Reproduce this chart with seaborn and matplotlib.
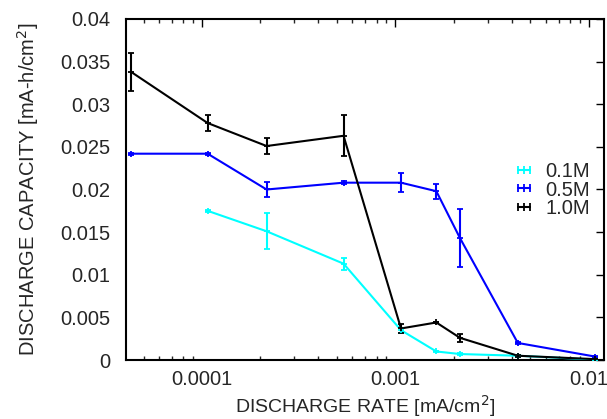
import numpy as np
import pandas as pd
import matplotlib
matplotlib.use("Agg")
import matplotlib.pyplot as plt
from matplotlib.lines import Line2D
import seaborn as sns

# Discharge rate [mA/cm^2] for each measurement
rate_01 = [1.07e-4, 2.16e-4, 5.4e-4, 1.07e-3, 1.63e-3, 2.16e-3, 4.3e-3, 1.08e-2]
rate_05 = [4.3e-5, 1.07e-4, 2.16e-4, 5.4e-4, 1.07e-3, 1.63e-3, 2.16e-3, 4.3e-3, 1.08e-2]
rate_10 = [4.3e-5, 1.07e-4, 2.16e-4, 5.4e-4, 1.07e-3, 1.63e-3, 2.16e-3, 4.3e-3, 1.08e-2]

# Discharge capacity [mA-h/cm^2] and its spread
cap_01 = [0.0175, 0.0151, 0.0113, 0.0035, 0.0010, 0.0007, 0.0005, 0.00005]
err_01 = [0.0001, 0.0021, 0.0007, 0.0003, 0.0001, 0.0001, 0.0001, 0.0001]
cap_05 = [0.0242, 0.0242, 0.0200, 0.0208, 0.0208, 0.0198, 0.0143, 0.0020, 0.0004]
err_05 = [0.0001, 0.0001, 0.0009, 0.0002, 0.0011, 0.0009, 0.0034, 0.0001, 0.0001]
cap_10 = [0.0338, 0.0278, 0.0251, 0.0263, 0.0037, 0.0044, 0.0026, 0.0005, 0.0001]
err_10 = [0.0022, 0.0009, 0.0009, 0.0024, 0.0005, 0.0001, 0.0005, 0.0001, 0.0001]

labels = ["0.1M", "0.5M", "1.0M"]
colors = ["#00ffff", "#0000ff", "#000000"]

frames = []
for lab, x, y, e in [("0.1M", rate_01, cap_01, err_01),
                     ("0.5M", rate_05, cap_05, err_05),
                     ("1.0M", rate_10, cap_10, err_10)]:
    frames.append(pd.DataFrame({"rate": x, "cap": y, "err": e, "conc": lab}))
df = pd.concat(frames, ignore_index=True)

sns.set_style("white")
plt.rcParams["font.family"] = ["Liberation Sans", "DejaVu Sans"]
plt.rcParams["font.size"] = 14.5

fig = plt.figure(figsize=(6.07, 4.19), dpi=100)
ax = fig.add_axes([126 / 607, 1 - 360 / 419, 478 / 607, 341 / 419])

sns.lineplot(data=df, x="rate", y="cap", hue="conc", hue_order=labels,
             palette=colors, errorbar=None, linewidth=1.5, ax=ax,
             legend=False, zorder=3)

for lab, col in zip(labels, colors):
    sub = df[df["conc"] == lab]
    ax.errorbar(sub["rate"], sub["cap"], yerr=sub["err"], fmt="+",
                color=col, ecolor=col, elinewidth=1.5, capsize=2.3,
                capthick=1.5, markersize=5, markeredgewidth=1.3,
                linestyle="none", zorder=4)

ax.set_xscale("log")
ax.set_xlim(4.05e-5, 1.2e-2)
ax.set_ylim(0, 0.04)
ax.set_yticks(np.arange(0, 0.0401, 0.005))
ax.set_yticklabels(["0", "0.005", "0.01", "0.015", "0.02", "0.025",
                    "0.03", "0.035", "0.04"])
ax.set_xticks([1e-4, 1e-3, 1e-2])
ax.set_xticklabels(["0.0001", "0.001", "0.01"])

ax.tick_params(axis="both", which="major", direction="in", length=6,
               width=1, top=True, right=True, labelsize=14.5, color="black")
ax.tick_params(axis="x", which="major", pad=7)
ax.tick_params(axis="y", which="major", pad=11)
ax.tick_params(axis="x", which="minor", direction="in", length=3,
               width=1, top=True, bottom=True)
ax.xaxis.set_minor_formatter(matplotlib.ticker.NullFormatter())

for s in ax.spines.values():
    s.set_color("black")
    s.set_linewidth(1.5)

ax.set_xlabel("DISCHARGE RATE [mA/cm$^2$]", fontsize=14, labelpad=3)
ax.set_ylabel("DISCHARGE CAPACITY [mA-h/cm$^2$]", fontsize=14.5, labelpad=14)

# legend samples drawn as short error-bar style strokes
handles = [Line2D([], [], color=c, linewidth=1.5, marker="|", markersize=6,
                  markeredgewidth=1.3) for c in colors]
ax.legend(handles, labels, loc="center right", numpoints=3,
          bbox_to_anchor=(0.971, 0.4985), frameon=False, fontsize=14.5,
          handlelength=1.2, handletextpad=0.45, labelspacing=-0.03,
          borderpad=0, borderaxespad=0)

fig.savefig("out.png", dpi=100)
